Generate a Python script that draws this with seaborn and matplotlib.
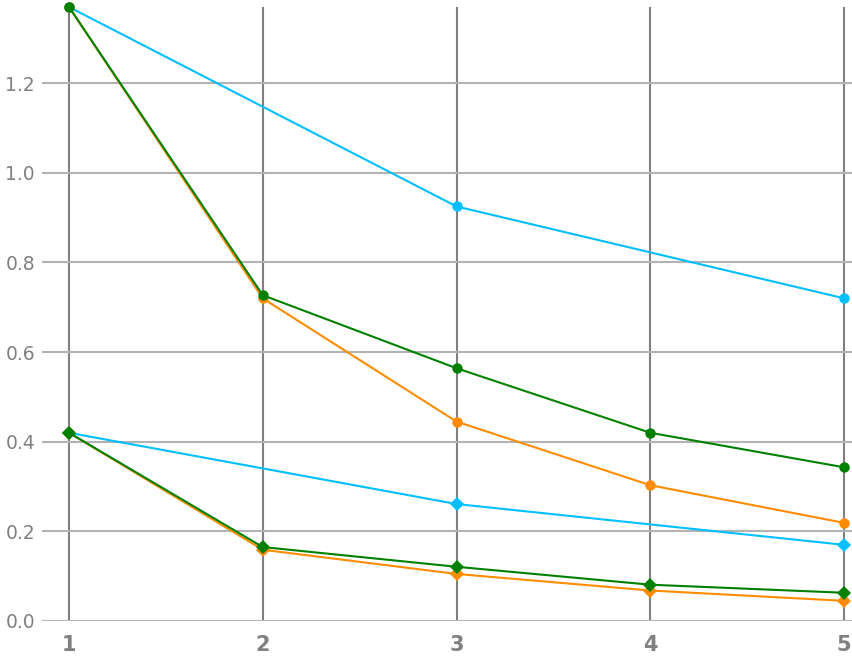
import matplotlib
matplotlib.use("Agg")
import matplotlib.pyplot as plt
import seaborn as sns
import pandas as pd

x_full = [1, 2, 3, 4, 5]
x_sparse = [1, 3, 5]

cyan_circle = [1.37, 0.925, 0.72]
orange_circle = [1.37, 0.72, 0.445, 0.303, 0.219]
green_circle = [1.37, 0.727, 0.564, 0.42, 0.343]
cyan_diamond = [0.42, 0.261, 0.17]
orange_diamond = [0.42, 0.159, 0.105, 0.068, 0.045]
green_diamond = [0.42, 0.165, 0.121, 0.081, 0.063]

x_ticks = [1, 2, 3, 4, 5]
y_ticks = [0.0, 0.2, 0.4, 0.6, 0.8, 1.0, 1.2]

CYAN = "#00bfff"
ORANGE = "#ff8c00"
GREEN = "#008000"

sns.set_style("white")
fig = plt.figure(figsize=(8.52, 6.58), dpi=100)
ax = fig.add_axes([42 / 852, (658 - 621) / 658, 810 / 852, 614 / 658])

series = [
    (x_sparse, cyan_circle, CYAN, "o", 7.5),
    (x_sparse, cyan_diamond, CYAN, "D", 7.5),
    (x_full, orange_circle, ORANGE, "o", 7.5),
    (x_full, orange_diamond, ORANGE, "D", 7.5),
    (x_full, green_circle, GREEN, "o", 7.5),
    (x_full, green_diamond, GREEN, "D", 7.5),
]
for i, (xs, ys, c, m, ms) in enumerate(series):
    df = pd.DataFrame({"x": xs, "y": ys})
    sns.lineplot(data=df, x="x", y="y", ax=ax, color=c, marker=m,
                 markersize=ms, markeredgewidth=0, linewidth=1.5,
                 clip_on=False, zorder=3 + i)

ax.set_xlim(0.8606, 5.0413)
ax.set_ylim(0, 1.37)
ax.set_xticks(x_ticks)
ax.set_xticklabels([str(v) for v in x_ticks])
ax.set_yticks(y_ticks)
ax.set_yticklabels([f"{v:.1f}" for v in y_ticks])
ax.set_xlabel("")
ax.set_ylabel("")

for s in ax.spines.values():
    s.set_visible(False)

ax.grid(axis="y", color="#b3b3b3", linewidth=1.5, zorder=0)
ax.grid(axis="x", color="#808080", linewidth=1.5, zorder=0)
ax.set_axisbelow(True)

ax.tick_params(axis="x", length=3, width=1.5, color="#808080",
               labelcolor="#808080", labelsize=15, pad=7)
ax.tick_params(axis="y", length=0, labelcolor="#808080", labelsize=13.5, pad=5)
for lbl in ax.get_xticklabels():
    lbl.set_fontweight("bold")

fig.savefig("out.png", dpi=100)
